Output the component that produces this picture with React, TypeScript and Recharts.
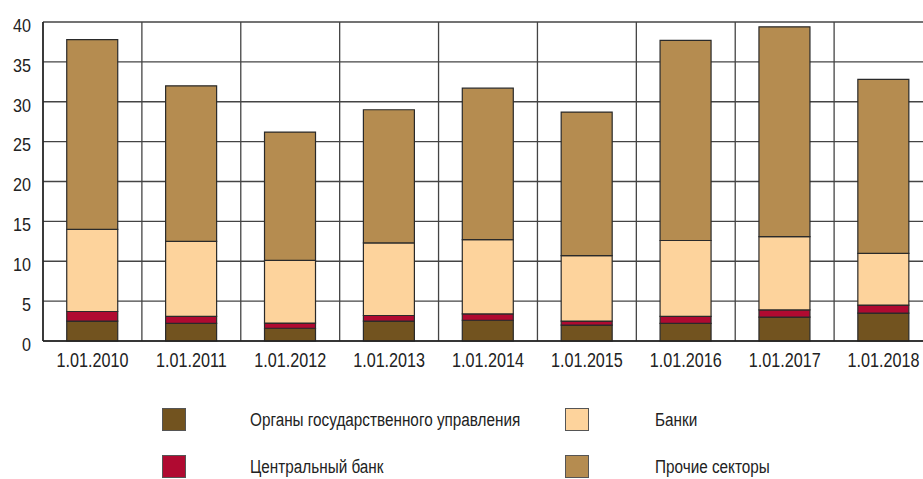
import { BarChart, Bar, XAxis, YAxis, CartesianGrid } from "recharts";

const dates = [
  "1.01.2010", "1.01.2011", "1.01.2012", "1.01.2013", "1.01.2014",
  "1.01.2015", "1.01.2016", "1.01.2017", "1.01.2018",
];
const government = [2.5, 2.2, 1.6, 2.5, 2.6, 2.0, 2.2, 3.0, 3.5];
const centralBank = [1.2, 0.9, 0.65, 0.7, 0.8, 0.5, 0.9, 0.9, 1.0];
const banks = [10.3, 9.4, 7.85, 9.1, 9.3, 8.2, 9.5, 9.2, 6.5];
const other = [23.8, 19.5, 16.1, 16.7, 19.0, 18.0, 25.1, 26.3, 21.8];
const yTicks = [0, 5, 10, 15, 20, 25, 30, 35, 40];

const series = [
  { key: "gov", name: "Органы государственного управления", color: "#72531f", values: government },
  { key: "cb", name: "Центральный банк", color: "#b00a31", values: centralBank },
  { key: "banks", name: "Банки", color: "#fdd39c", values: banks },
  { key: "other", name: "Прочие секторы", color: "#b58c50", values: other },
];

const data = dates.map((d, i) => {
  const row: Record<string, string | number> = { date: d };
  series.forEach((s) => (row[s.key] = s.values[i]));
  return row;
});

const font = "'Liberation Sans', Arial, sans-serif";
const gridColor = "#444";

// condensed look: the installed fonts have no narrow cut, so squeeze horizontally
const XTick = ({ x, y, payload }: any) => (
  <g transform={`translate(${x},${y + 3})`}>
    <text transform="scale(0.77,1)" textAnchor="middle" dy="0.72em" fontSize={21} fill="#222" fontFamily={font}>
      {payload.value}
    </text>
  </g>
);

const YTick = ({ x, y, payload }: any) => (
  <g transform={`translate(${x - 4},${y + 3})`}>
    <text transform="scale(0.85,1)" textAnchor="end" dy="0.36em" fontSize={19} fill="#222" fontFamily={font}>
      {payload.value}
    </text>
  </g>
);

export default function App() {
  const legendItems = [series[0], series[2], series[1], series[3]];
  return (
    <div
      style={{
        position: "absolute",
        left: 0,
        top: 0,
        width: 923,
        height: 479,
        overflow: "hidden",
        background: "#fff",
        fontFamily: font,
      }}
    >
      <BarChart
        width={933}
        height={380}
        data={data}
        margin={{ top: 22, right: 0, bottom: 10, left: 0 }}
        barCategoryGap="24%"
      >
        <CartesianGrid
          stroke={gridColor}
          strokeWidth={1.3}
          verticalCoordinatesGenerator={({ offset }: any) =>
            dates.map((_, i) => offset.left + (i * offset.width) / dates.length)
          }
        />
        <XAxis
          dataKey="date"
          height={29}
          tickLine={false}
          axisLine={{ stroke: "#222", strokeWidth: 1.5 }}
          tick={<XTick />}
          interval={0}
        />
        <YAxis
          width={43}
          domain={[0, 40]}
          ticks={yTicks}
          tickLine={false}
          axisLine={{ stroke: "#222", strokeWidth: 1.5 }}
          tick={<YTick />}
        />
        {series.map((s) => (
          <Bar
            key={s.key}
            dataKey={s.key}
            name={s.name}
            stackId="a"
            fill={s.color}
            stroke="#2a2a2a"
            strokeWidth={1.2}
            isAnimationActive={false}
          />
        ))}
      </BarChart>
      <div style={{ position: "absolute", left: 0, top: 0 }}>
        {legendItems.map((s, i) => {
          const col = i % 2;
          const row = Math.floor(i / 2);
          const boxLeft = col === 0 ? 162 : 565;
          const textLeft = col === 0 ? 250 : 655;
          const top = 408 + row * 47;
          return (
            <div key={s.key}>
              <div
                style={{
                  position: "absolute",
                  left: boxLeft,
                  top,
                  width: 24,
                  height: 23,
                  background: s.color,
                  border: "1px solid #555",
                  boxSizing: "border-box",
                }}
              />
              <div
                style={{
                  position: "absolute",
                  left: textLeft,
                  top,
                  height: 24,
                  lineHeight: "24px",
                  fontSize: 18,
                  color: "#222",
                  whiteSpace: "nowrap",
                  transform: "scaleX(0.85)",
                  transformOrigin: "left center",
                }}
              >
                {s.name}
              </div>
            </div>
          );
        })}
      </div>
    </div>
  );
}
